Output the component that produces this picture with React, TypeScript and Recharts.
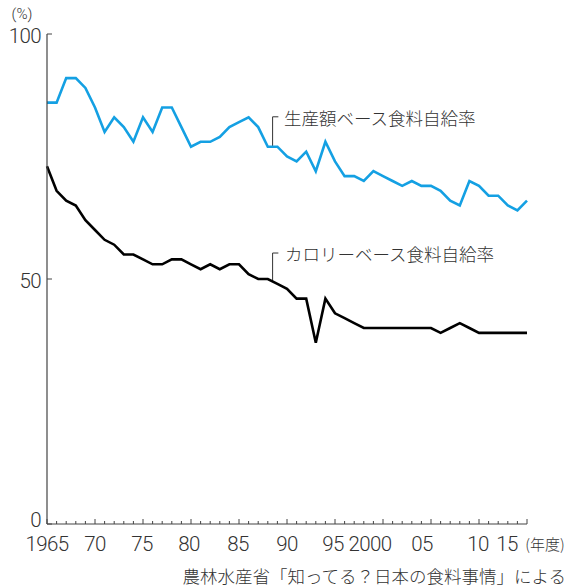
import React from 'react';
import { LineChart, Line, XAxis, YAxis, ReferenceLine } from 'recharts';

const years = [
  1965, 1966, 1967, 1968, 1969, 1970, 1971, 1972, 1973, 1974,
  1975, 1976, 1977, 1978, 1979, 1980, 1981, 1982, 1983, 1984,
  1985, 1986, 1987, 1988, 1989, 1990, 1991, 1992, 1993, 1994,
  1995, 1996, 1997, 1998, 1999, 2000, 2001, 2002, 2003, 2004,
  2005, 2006, 2007, 2008, 2009, 2010, 2011, 2012, 2013, 2014,
  2015,
];

const productionBased = [
  86, 86, 91, 91, 89, 85, 80, 83, 81, 78,
  83, 80, 85, 85, 81, 77, 78, 78, 79, 81,
  82, 83, 81, 77, 77, 75, 74, 76, 72, 78,
  74, 71, 71, 70, 72, 71, 70, 69, 70, 69,
  69, 68, 66, 65, 70, 69, 67, 67, 65, 64,
  66,
];

const calorieBased = [
  73, 68, 66, 65, 62, 60, 58, 57, 55, 55,
  54, 53, 53, 54, 54, 53, 52, 53, 52, 53,
  53, 51, 50, 50, 49, 48, 46, 46, 37, 46,
  43, 42, 41, 40, 40, 40, 40, 40, 40, 40,
  40, 39, 40, 41, 40, 39, 39, 39, 39, 39,
  39,
];

const xLabelYears = [1965, 1970, 1975, 1980, 1985, 1990, 1995, 2000, 2005, 2010, 2015];
const xLabels = ['1965', '70', '75', '80', '85', '90', '95', '2000', '05', '10', '15'];
const yTicks = [0, 50, 100];

const productionName = '生産額ベース食料自給率';
const calorieName = 'カロリーベース食料自給率';
const yUnit = '(%)';
const xUnit = '(年度)';
const sourceText = '農林水産省「知ってる？日本の食料事情」による';

const data = years.map((year, i) => ({
  year,
  production: productionBased[i],
  calorie: calorieBased[i],
}));

const NUM_FONT = 'Roboto, "Liberation Sans", sans-serif';
const JP_FONT = '"Noto Sans CJK JP", "Noto Sans", sans-serif';
const TEXT_COLOR = '#333';
const AXIS_COLOR = '#444';
const BLUE = '#14a0e3';

// label nudges (visual placement only)
const xLabelDx: Record<number, number> = {
  1975: -1, 1980: -2, 1985: -1, 1995: -2, 2000: -13, 2005: -9, 2010: -1, 2015: -20,
};
const yLabelDy: Record<number, number> = { 0: -4, 50: 1.5, 100: 1.5 };

const XTick = (props: any) => {
  const { x, y, payload } = props;
  const yr = payload.value;
  const idx = xLabelYears.indexOf(yr);
  const major = yr % 5 === 0;
  return (
    <g>
      <line x1={x} x2={x} y1={y} y2={y - (major ? 5 : 3)} stroke={AXIS_COLOR} strokeWidth={1} />
      {idx >= 0 && (
        <text
          x={x + (xLabelDx[yr] || 0)}
          y={y + 20}
          textAnchor="middle"
          dominantBaseline="central"
          fontFamily={NUM_FONT}
          fontWeight={300}
          fontSize={20.5}
          letterSpacing={-0.6}
          fill={TEXT_COLOR}
        >
          {xLabels[idx]}
        </text>
      )}
    </g>
  );
};

const YTick = (props: any) => {
  const { x, y, payload } = props;
  return (
    <g>
      <line x1={x} x2={x + 5} y1={y} y2={y} stroke={AXIS_COLOR} strokeWidth={1} />
      <text
        x={x - 6}
        y={y + (yLabelDy[payload.value] || 0)}
        textAnchor="end"
        dominantBaseline="central"
        fontFamily={NUM_FONT}
        fontWeight={300}
        fontSize={20.5}
        letterSpacing={-0.6}
        fill={TEXT_COLOR}
      >
        {payload.value}
      </text>
    </g>
  );
};

export default function App() {
  return (
    <div style={{ position: 'absolute', left: 0, top: 0, width: 569, height: 587, background: '#fff' }}>
      <LineChart
        width={569}
        height={587}
        data={data}
        margin={{ top: 34, right: 42, bottom: 62, left: 46 }}
      >
        <XAxis
          dataKey="year"
          type="number"
          domain={[1965, 2015]}
          ticks={years}
          interval={0}
          height={1}
          tickSize={0}
          tickMargin={0}
          tickLine={false}
          axisLine={{ stroke: AXIS_COLOR, strokeWidth: 1.2 }}
          tick={<XTick />}
        />
        <YAxis
          type="number"
          domain={[0, 100]}
          ticks={yTicks}
          interval={0}
          width={1}
          tickSize={0}
          tickMargin={0}
          tickLine={false}
          axisLine={{ stroke: AXIS_COLOR, strokeWidth: 1.2 }}
          tick={<YTick />}
        />
        <ReferenceLine
          segment={[{ x: 1988.5, y: 77 }, { x: 1988.5, y: 83.1 }]}
          stroke="#333"
          strokeWidth={1}
          ifOverflow="visible"
        />
        <ReferenceLine
          segment={[{ x: 1988.5, y: 83.1 }, { x: 1989.1, y: 83.1 }]}
          stroke="#333"
          strokeWidth={1}
          ifOverflow="visible"
        />
        <ReferenceLine
          segment={[{ x: 1988.5, y: 49.5 }, { x: 1988.5, y: 55.3 }]}
          stroke="#333"
          strokeWidth={1}
          ifOverflow="visible"
        />
        <ReferenceLine
          segment={[{ x: 1988.5, y: 55.3 }, { x: 1989.1, y: 55.3 }]}
          stroke="#333"
          strokeWidth={1}
          ifOverflow="visible"
        />
        <Line
          type="linear"
          dataKey="production"
          stroke={BLUE}
          strokeWidth={2.6}
          dot={false}
          isAnimationActive={false}
        />
        <Line
          type="linear"
          dataKey="calorie"
          stroke="#000"
          strokeWidth={2.6}
          dot={false}
          isAnimationActive={false}
        />
      </LineChart>
      <svg
        width={569}
        height={587}
        style={{ position: 'absolute', left: 0, top: 0, pointerEvents: 'none' }}
      >
        <text x={22} y={14} textAnchor="middle" dominantBaseline="central" fontFamily={NUM_FONT} fontWeight={300} fontSize={15} fill={TEXT_COLOR}>
          {yUnit}
        </text>
        <text x={284} y={117} dominantBaseline="central" fontFamily={JP_FONT} fontWeight={300} fontSize={17.5} fill={TEXT_COLOR}>
          {productionName}
        </text>
        <text x={285} y={253} dominantBaseline="central" fontFamily={JP_FONT} fontWeight={300} fontSize={17.5} fill={TEXT_COLOR}>
          {calorieName}
        </text>
        <text x={545} y={543} textAnchor="middle" dominantBaseline="central" fontFamily={JP_FONT} fontWeight={300} fontSize={15} fill={TEXT_COLOR}>
          {xUnit}
        </text>
        <text x={566} y={575} textAnchor="end" dominantBaseline="central" fontFamily={JP_FONT} fontWeight={300} fontSize={17.5} fill={TEXT_COLOR}>
          {sourceText}
        </text>
      </svg>
    </div>
  );
}
